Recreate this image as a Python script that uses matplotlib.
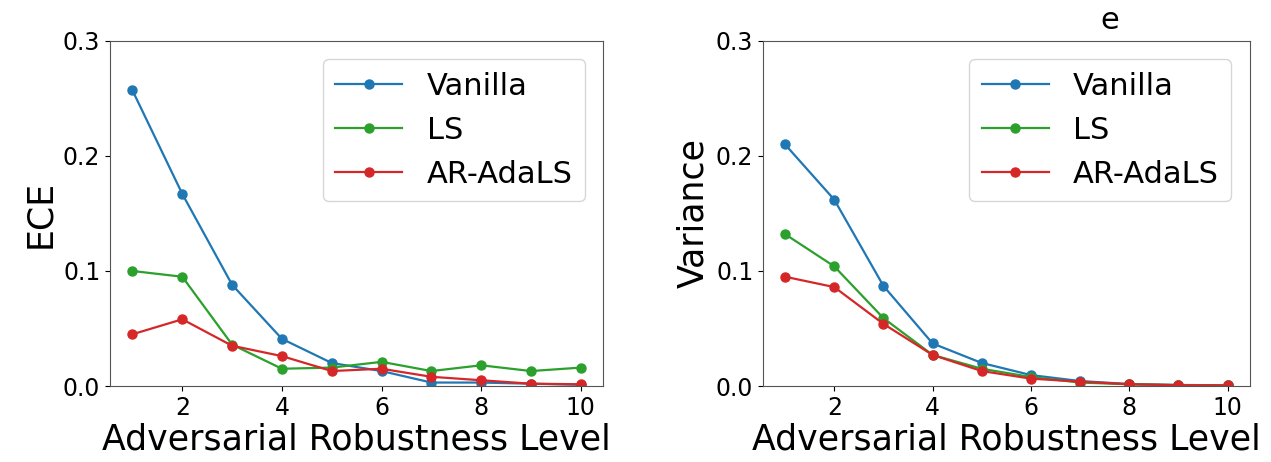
import numpy as np
import matplotlib.pyplot as plt

levels = [1, 2, 3, 4, 5, 6, 7, 8, 9, 10]

# ECE per robustness level
ece_vanilla = [0.257, 0.167, 0.088, 0.041, 0.020, 0.013, 0.003, 0.003, 0.002, 0.001]
ece_ls = [0.100, 0.095, 0.036, 0.015, 0.016, 0.021, 0.013, 0.018, 0.013, 0.016]
ece_arada = [0.045, 0.058, 0.035, 0.026, 0.013, 0.015, 0.008, 0.005, 0.002, 0.0015]

# Variance per robustness level
var_vanilla = [0.210, 0.162, 0.087, 0.037, 0.020, 0.0095, 0.0043, 0.0017, 0.0009, 0.0006]
var_ls = [0.132, 0.104, 0.059, 0.027, 0.015, 0.0078, 0.0030, 0.0015, 0.0008, 0.0005]
var_arada = [0.095, 0.086, 0.054, 0.027, 0.013, 0.0064, 0.0038, 0.0015, 0.0007, 0.0005]

series_names = ['Vanilla', 'LS', 'AR-AdaLS']
colors = ['#1f77b4', '#2ca02c', '#d62728']

DPI = 100
fig = plt.figure(figsize=(1271/DPI, 462/DPI), dpi=DPI)
ax1 = fig.add_axes([0.0866, 0.1645, 0.388, 0.7468])
ax2 = fig.add_axes([0.6003, 0.1645, 0.383, 0.7468])

panels = [
    (ax1, [ece_vanilla, ece_ls, ece_arada], 'ECE'),
    (ax2, [var_vanilla, var_ls, var_arada], 'Variance'),
]

for ax, data, ylabel in panels:
    for vals, name, c in zip(data, series_names, colors):
        ax.plot(levels, vals, marker='o', markersize=6.5, linewidth=1.6, color=c, label=name)
    ax.set_ylim(0, 0.3)
    ax.set_yticks([0.0, 0.1, 0.2, 0.3])
    ax.set_xticks([2, 4, 6, 8, 10])
    ax.tick_params(labelsize=17)
    ax.set_xlabel('Adversarial Robustness Level', fontsize=25, labelpad=2)
    ax.set_ylabel(ylabel, fontsize=25)
    for s in ax.spines.values():
        s.set_color('#555555')
    ax.legend(loc='upper right', fontsize=22, handlelength=2.2, borderaxespad=0.6)

# cut-off title remnant at top of right panel
fig.text(1110/1271, 1 - 29/462, 'e', fontsize=22, ha='center', va='baseline')

plt.savefig('out.png', dpi=DPI)
